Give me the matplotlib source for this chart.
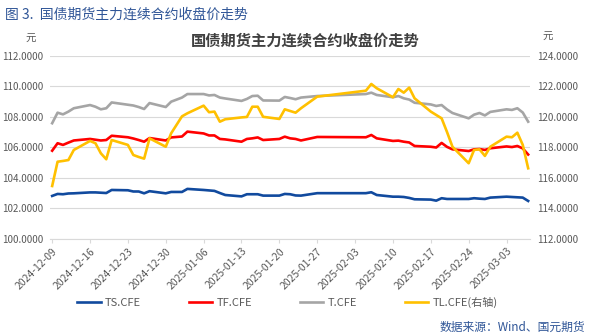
import numpy as np
import pandas as pd
import matplotlib
matplotlib.use('Agg')
import matplotlib.pyplot as plt
import matplotlib.dates as mdates
from matplotlib.ticker import MultipleLocator, FormatStrFormatter

plt.rcParams['font.family'] = ['Noto Sans CJK SC', 'DejaVu Sans']

# trading days (Spring Festival gap between 01-27 and 02-05)
dates = [
    '2024-12-09', '2024-12-10', '2024-12-11', '2024-12-12', '2024-12-13',
    '2024-12-16', '2024-12-17', '2024-12-18', '2024-12-19', '2024-12-20',
    '2024-12-23', '2024-12-24', '2024-12-25', '2024-12-26', '2024-12-27',
    '2024-12-30', '2024-12-31', '2025-01-02', '2025-01-03',
    '2025-01-06', '2025-01-07', '2025-01-08', '2025-01-09', '2025-01-10',
    '2025-01-13', '2025-01-14', '2025-01-15', '2025-01-16', '2025-01-17',
    '2025-01-20', '2025-01-21', '2025-01-22', '2025-01-23', '2025-01-24',
    '2025-01-27', '2025-02-05', '2025-02-06', '2025-02-07',
    '2025-02-10', '2025-02-11', '2025-02-12', '2025-02-13', '2025-02-14',
    '2025-02-17', '2025-02-18', '2025-02-19', '2025-02-20', '2025-02-21',
    '2025-02-24', '2025-02-25', '2025-02-26', '2025-02-27', '2025-02-28',
    '2025-03-03', '2025-03-04', '2025-03-05', '2025-03-06', '2025-03-07',
]

ts = [102.82, 102.95, 102.93, 102.98, 102.99,
      103.05, 103.05, 103.03, 103.01, 103.21,
      103.19, 103.11, 103.11, 102.99, 103.13,
      102.99, 103.08, 103.08, 103.28,
      103.21, 103.18, 103.15, 103.01, 102.88,
      102.79, 102.93, 102.93, 102.93, 102.84,
      102.84, 102.95, 102.93, 102.85, 102.84,
      103.00, 103.00, 103.06, 102.88,
      102.77, 102.77, 102.75, 102.69, 102.60,
      102.58, 102.51, 102.67, 102.62, 102.62,
      102.62, 102.67, 102.64, 102.62, 102.71,
      102.77, 102.75, 102.73, 102.71, 102.49]

tf = [105.78, 106.27, 106.16, 106.31, 106.45,
      106.55, 106.50, 106.45, 106.48, 106.76,
      106.66, 106.58, 106.48, 106.37, 106.61,
      106.45, 106.65, 106.71, 107.03,
      106.91, 106.78, 106.78, 106.55, 106.52,
      106.37, 106.55, 106.59, 106.65, 106.48,
      106.55, 106.70, 106.59, 106.55, 106.45,
      106.68, 106.66, 106.81, 106.59,
      106.42, 106.44, 106.37, 106.32, 106.09,
      106.04, 105.99, 106.29, 106.03, 105.87,
      105.76, 105.87, 105.89, 105.83, 105.94,
      106.06, 106.02, 106.09, 105.93, 105.53]

t = [107.58, 108.27, 108.16, 108.34, 108.56,
     108.77, 108.66, 108.49, 108.56, 108.94,
     108.79, 108.74, 108.64, 108.51, 108.90,
     108.64, 108.99, 109.26, 109.49,
     109.49, 109.40, 109.43, 109.26, 109.20,
     109.04, 109.17, 109.36, 109.38, 109.07,
     109.06, 109.30, 109.23, 109.15, 109.26,
     109.36, 109.49, 109.58, 109.43,
     109.28, 109.36, 109.21, 109.13, 108.92,
     108.81, 108.71, 108.77, 108.48, 108.25,
     107.90, 108.14, 108.25, 108.09, 108.32,
     108.49, 108.45, 108.56, 108.28, 107.68]

tl = [115.47, 117.06, 117.11, 117.17, 117.83,
      118.42, 118.27, 117.61, 117.22, 118.48,
      118.16, 117.50, 117.37, 117.26, 118.59,
      118.04, 118.92, 120.03, 120.23,
      120.73, 120.30, 120.34, 119.68, 119.84,
      119.96, 119.99, 120.66, 120.66, 120.00,
      119.86, 120.49, 120.38, 120.27, 120.56,
      121.32, 121.71, 122.15, 121.87,
      121.28, 121.82, 121.58, 121.91, 121.21,
      120.34, 120.12, 119.90, 119.00, 118.04,
      116.96, 117.83, 117.87, 117.44, 118.04,
      118.70, 118.66, 118.96, 118.16, 116.63]

x = pd.to_datetime(dates)
tick_dates = pd.date_range('2024-12-09', '2025-03-03', freq='7D')

fig = plt.figure(figsize=(5.89, 3.36), dpi=100)
ax = fig.add_axes([0.0849, 0.2887, 0.8155, 0.5455])
ax2 = ax.twinx()

ax.plot(x, ts, color='#114A9E', lw=1.9, label='TS.CFE', zorder=3)
ax.plot(x, tf, color='#FF0000', lw=1.9, label='TF.CFE', zorder=3)
ax.plot(x, t, color='#A5A5A5', lw=1.9, label='T.CFE', zorder=3)
ax2.plot(x, tl, color='#FFC000', lw=1.9, label='TL.CFE(右轴)', zorder=3)

ax.set_ylim(100, 112)
ax2.set_ylim(112, 124)
ax.yaxis.set_major_locator(MultipleLocator(2))
ax2.yaxis.set_major_locator(MultipleLocator(2))
ax.yaxis.set_major_formatter(FormatStrFormatter('%.4f'))
ax2.yaxis.set_major_formatter(FormatStrFormatter('%.4f'))

d0 = mdates.date2num(x[0])
d1 = mdates.date2num(x[-1])
ax.set_xlim(d0 - 0.4, d1 + 0.4)
ax.set_xticks(mdates.date2num(tick_dates))
ax.xaxis.set_major_formatter(mdates.DateFormatter('%Y-%m-%d'))
for lab in ax.get_xticklabels():
    lab.set_rotation(45)
    lab.set_ha('right')
    lab.set_rotation_mode('anchor')

ax.grid(axis='y', color='#D9D9D9', lw=0.8)
ax.set_axisbelow(True)
for a in (ax, ax2):
    for s in a.spines.values():
        s.set_visible(False)
ax.spines['bottom'].set_visible(True)
ax.spines['bottom'].set_color('#D9D9D9')
ax.tick_params(axis='y', length=0, labelsize=7, labelcolor='#595959', pad=5)
ax2.tick_params(axis='y', length=0, labelsize=7, labelcolor='#595959', pad=5)
ax.tick_params(axis='x', length=3, color='#D9D9D9', labelsize=7.5, labelcolor='#595959', pad=2)

fig.text(0.009, 0.978, '图 3.  国债期货主力连续合约收盘价走势', fontsize=10,
         color='#2F5597', va='top', ha='left')
fig.text(0.518, 0.88, '国债期货主力连续合约收盘价走势', fontsize=11, fontweight='bold',
         color='#404040', ha='center', va='center')
fig.text(0.052, 0.885, '元', fontsize=7.5, color='#595959', ha='center', va='center')
fig.text(0.93, 0.89, '元', fontsize=7.5, color='#595959', ha='center', va='center')

h1, l1 = ax.get_legend_handles_labels()
h2, l2 = ax2.get_legend_handles_labels()
fig.legend(h1 + h2, l1 + l2, loc='center', bbox_to_anchor=(0.488, 0.101), ncol=4,
           frameon=False, fontsize=8, handlelength=2.1, columnspacing=4.3,
           handletextpad=0.4, labelcolor='#595959')

fig.text(0.993, 0.005, '数据来源：Wind、国元期货', fontsize=8.5, color='#2F5597',
         ha='right', va='bottom')

fig.savefig('out.png', dpi=100)
